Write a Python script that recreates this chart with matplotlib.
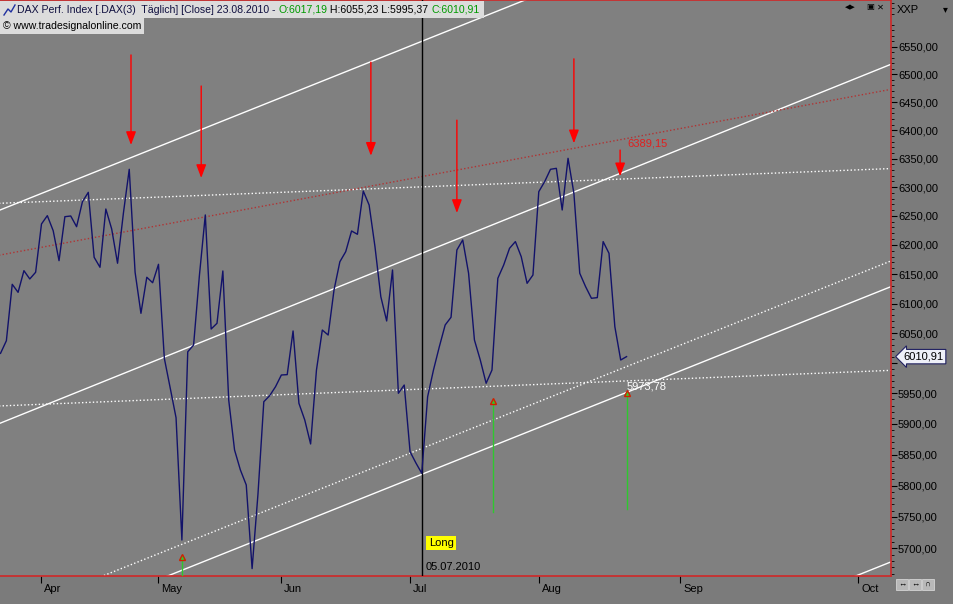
import matplotlib
matplotlib.use('Agg')
import matplotlib.pyplot as plt
import matplotlib.transforms as mtransforms
from matplotlib.ticker import NullFormatter, NullLocator
from matplotlib.patches import Rectangle
from matplotlib.lines import Line2D

plt.rcParams['font.family'] = ['Liberation Sans', 'DejaVu Sans']

# --- Daten: DAX Schlusskurse (taeglich), Balkenindex 0 = 23.03.2010, 107 = 23.08.2010 ---
closes = [6016.4, 6037.5, 6132.6, 6119.0, 6155.8, 6141.7, 6153.1, 6236.0, 6250.4, 6224.4,
          6172.9, 6248.6, 6249.8, 6231.3, 6274.6, 6290.9, 6178.7, 6161.6, 6261.9, 6227.3,
          6168.5, 6254.5, 6331.2, 6153.1, 6083.5, 6144.6, 6135.3, 6166.7, 6008.0, 5959.0,
          5910.0, 5713.1, 6019.0, 6030.3, 6148.4, 6251.6, 6057.1, 6066.7, 6155.3, 5939.2,
          5857.4, 5825.0, 5800.9, 5668.0, 5786.0, 5936.3, 5946.2, 5961.0, 5980.4, 5981.0,
          6053.8, 5933.7, 5906.3, 5867.2, 5988.7, 6055.4, 6047.0, 6122.9, 6171.1, 6188.3,
          6223.9, 6218.2, 6293.2, 6268.9, 6196.9, 6111.6, 6070.6, 6157.0, 5950.2, 5963.8,
          5854.6, 5836.3, 5819.7, 5944.5, 5988.7, 6027.5, 6063.9, 6076.8, 6191.2, 6208.4,
          6151.4, 6038.7, 6005.3, 5966.7, 5988.7, 6142.8, 6165.5, 6194.1, 6205.6, 6179.7,
          6134.3, 6148.4, 6292.1, 6309.5, 6331.2, 6332.9, 6260.2, 6350.5, 6289.2, 6151.4,
          6128.6, 6108.9, 6110.0, 6205.6, 6185.5, 6061.0, 6005.3, 6010.91]
bars = list(range(len(closes)))

month_labels = ['Apr', 'May', 'Jun', 'Jul', 'Aug', 'Sep', 'Oct']
month_pos = [7, 27, 48, 70, 92, 116.2, 146.6]

# Trendlinien: Wert bei Balken -2 und Balken 155
line_x = [-2, 155]
white_solid = [(6252.4, 6922.5), (5893.6, 6530.1), (5545.4, 6139.8), (5138.2, 5688.9)]
white_dotted = [(6271.1, 6333.6), (5928.6, 5989.2), (5585.5, 6183.7)]
red_dotted = [6179.0, 6478.5]

# Verkaufssignale (rote Pfeile nach unten)
sell_x = [22.3, 34.3, 63.3, 78.0, 98.0, 105.9]
sell_top = [6535, 6479, 6522, 6418, 6528, 6365]
sell_tip = [6374, 6316, 6355, 6255, 6377, 6319]

# Kaufsignale (gruene Pfeile nach oben)
buy_x = [31.1, 84.1, 107.0]
buy_top = [5686, 5937, 5951]
buy_bottom = [5640, 5758, 5762]

long_bar = 72
last_close = 6010.91
y_ticks = list(range(5700, 6551, 50))
y_minor = [v for v in range(5660, 6640, 10) if v % 50 != 0]

W, H = 954, 604
fig = plt.figure(figsize=(W / 100, H / 100), dpi=100, facecolor='#7b7b7b')
ax = fig.add_axes([0, 28 / H, 891 / W, 576 / H])
ax.set_facecolor('#808080')
ax.set_yscale('log')
ax.set_xlim(-0.09, 152.2)
ax.set_ylim(5656.4, 6635.3)

# --- Linien ---
for p0, p1 in white_solid:
    ax.plot(line_x, [p0, p1], color='white', lw=1)
for p0, p1 in white_dotted:
    ax.plot(line_x, [p0, p1], color='white', lw=1, linestyle=(0, (1, 1.6)))
ax.plot(line_x, red_dotted, color='#b03434', lw=1, linestyle=(0, (1, 1.6)))
ax.plot(bars, closes, color='#12126a', lw=1, zorder=4)
ax.axvline(long_bar, color='black', lw=1, zorder=3)

# --- Signale ---
for xb, top, tip in zip(sell_x, sell_top, sell_tip):
    ax.annotate('', xy=(xb, tip), xytext=(xb, top),
                arrowprops=dict(arrowstyle='-|>,head_length=0.8,head_width=0.3',
                                color='#ff0000', lw=1, shrinkA=0, shrinkB=0))
for xb, top, bot in zip(buy_x, buy_top, buy_bottom):
    ax.plot([xb, xb], [bot, top], color='#2ec82e', lw=1, zorder=5)
    ax.plot(xb, top, marker='^', ms=5, mfc='#2ec82e', mec='#d02000', mew=1, zorder=6)

ax.text(107.1, 6377, '6389,15', color='#e02020', fontsize=8, ha='left', va='center')
ax.text(107.0, 5962, '5973,78', color='white', fontsize=8, ha='left', va='center')
ax.annotate('Long', xy=(long_bar, 5708), xytext=(5, 0), textcoords='offset points',
            fontsize=8, ha='left', va='center', color='black',
            bbox=dict(boxstyle='square,pad=0.2', fc='#ffff00', ec='none'))
ax.annotate('05.07.2010', xy=(long_bar, 5670.5), xytext=(2.5, 0), textcoords='offset points',
            fontsize=8, ha='left', va='center', color='black')

# --- Achsen ---
for s in ['top', 'right', 'bottom']:
    ax.spines[s].set_color('#d02828')
    ax.spines[s].set_linewidth(1.2)
ax.spines['left'].set_visible(False)

ax.yaxis.tick_right()
ax.set_yticks(y_ticks)
# 6000,00 liegt im Original unter dem Kursschild
ax.set_yticklabels(['' if v == 6000 else f'{v:.2f}'.replace('.', ',') for v in y_ticks])
ax.set_yticks(y_minor, minor=True)
ax.yaxis.set_minor_formatter(NullFormatter())
ax.tick_params(axis='y', which='major', length=4, pad=1, labelsize=8, colors='black')
ax.tick_params(axis='y', which='minor', length=2, colors='black')

ax.set_xticks(month_pos)
ax.set_xticklabels(month_labels)
ax.xaxis.set_minor_locator(NullLocator())
ax.tick_params(axis='x', length=5, pad=1, labelsize=8, colors='black')
offset = mtransforms.ScaledTranslation(2 / 72, 0, fig.dpi_scale_trans)
for lab in ax.get_xticklabels():
    lab.set_ha('left')
    lab.set_transform(lab.get_transform() + offset)

ax.annotate(f'{last_close:.2f}'.replace('.', ','), xy=(1.0, last_close),
            xycoords=('axes fraction', 'data'), xytext=(9, 0), textcoords='offset points',
            fontsize=8, ha='left', va='center', color='black', annotation_clip=False,
            bbox=dict(boxstyle='larrow,pad=0.2', fc='#eef0f8', ec='#202060', lw=0.8),
            zorder=10)

# --- Kopfzeile ---
fig.canvas.draw()
r = fig.canvas.get_renderer()
header_parts = [("DAX Perf. Index [.DAX(3)  Täglich] [Close] 23.08.2010 - ", '#101040'),
                ("O:6017,19", '#009a00'),
                (" H:6055,23 L:5995,37 ", 'black'),
                ("C:6010,91", '#009a00')]
xp = 17
for s, c in header_parts:
    t = fig.text(xp / W, 1 - 10 / H, s, color=c, fontsize=7.6, ha='left', va='center', zorder=5)
    xp += t.get_window_extent(renderer=r).width
fig.add_artist(Rectangle((0, 1 - 18 / H), (xp + 4) / W, 17 / H, transform=fig.transFigure,
                         fc='#dcdcdc', ec='none', zorder=4))
t2 = fig.text(3 / W, 1 - 26 / H, '© www.tradesignalonline.com', color='black', fontsize=7.6,
              ha='left', va='center', zorder=5)
w2 = t2.get_window_extent(renderer=r).width
fig.add_artist(Rectangle((0, 1 - 34 / H), (w2 + 6) / W, 16 / H, transform=fig.transFigure,
                         fc='#dcdcdc', ec='none', zorder=4))
fig.add_artist(Line2D([4 / W, 8 / W, 11 / W, 15 / W],
                      [1 - 15 / H, 1 - 9 / H, 1 - 12 / H, 1 - 5 / H],
                      transform=fig.transFigure, color='#2030a0', lw=1, zorder=5))

fig.text(845 / W, 1 - 8 / H, '◀▶', fontsize=5, color='black', ha='left', va='center')
fig.text(866 / W, 1 - 8 / H, '▣', fontsize=6, color='black', ha='left', va='center')
fig.text(877 / W, 1 - 8 / H, '✕', fontsize=6, color='black', ha='left', va='center')
fig.text(897 / W, 1 - 10 / H, 'XXP', fontsize=8, color='black', ha='left', va='center')
fig.text(943 / W, 1 - 9 / H, '▾', fontsize=7, color='black', ha='left', va='center')
for i, sym in enumerate(['↔', '↔', '∩']):
    fig.add_artist(Rectangle(((896 + 13 * i) / W, 1 - 590 / H), 12 / W, 11 / H,
                             transform=fig.transFigure, fc='#b8b8b8', ec='#e0e0e0', lw=0.5))
    fig.text((902 + 13 * i) / W, 1 - 584.5 / H, sym, fontsize=6, color='black',
             ha='center', va='center')

fig.savefig('out.png', dpi=100, facecolor=fig.get_facecolor())
